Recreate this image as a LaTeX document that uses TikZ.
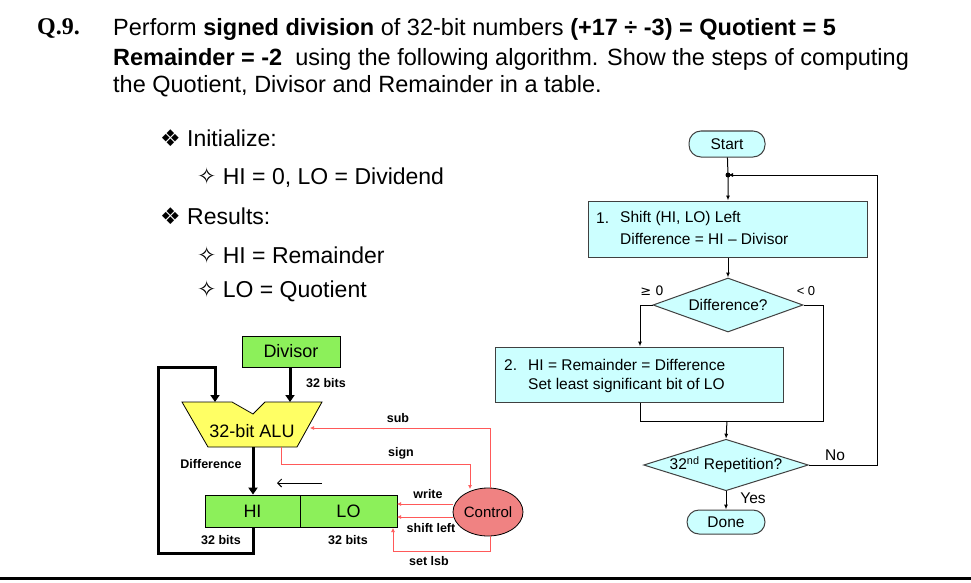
\documentclass[tikz,border=0pt]{standalone}
\usepackage{fontspec}
\setmainfont{Liberation Sans}
\newfontfamily\serifb{Liberation Serif}
\newfontfamily\dejavu{DejaVu Sans}
\usetikzlibrary{arrows.meta,shapes.geometric}
\definecolor{flowfill}{RGB}{204,255,255}
\definecolor{dpgreen}{RGB}{140,240,90}
\definecolor{alufill}{RGB}{255,255,100}
\definecolor{ctlfill}{RGB}{240,130,130}
\begin{document}
\begin{tikzpicture}[x=1pt,y=-1pt,
  flow/.style={draw=black!75,fill=flowfill,line width=1pt},
  dp/.style={draw=black,fill=dpgreen,line width=0.8pt},
  red/.style={draw=red!65,line width=0.7pt},
  thick arr/.style={line width=3pt,-{Triangle[length=7pt,width=9pt]}},
  farr/.style={line width=1pt,-{Latex[length=5pt,width=4pt]}},
  rarr/.style={red,-{Latex[length=4pt,width=4pt]}},
  lbl/.style={font=\fontsize{12.5}{14}\selectfont\bfseries,inner sep=0pt},
  ftxt/.style={font=\fontsize{15.5}{17}\selectfont},
  big/.style={font=\fontsize{18}{20}\selectfont},
  title/.style={font=\fontsize{23.5}{26}\selectfont,anchor=west,inner sep=0pt},
  bullet/.style={font=\fontsize{23}{26}\selectfont,anchor=west,inner sep=0pt}]
\useasboundingbox (0,0) rectangle (971,583);
\fill[white] (0,0) rectangle (971,583);
% title
\node[anchor=west,inner sep=0pt,font=\fontsize{24}{26}\selectfont\serifb\bfseries] (q) at (37,29) {Q.9.};
\node[title] (t1) at (113,29) {Perform \textbf{signed division} of 32-bit numbers \textbf{(+17 ÷ -3) = Quotient = 5}};
\node[title] (t2) at (113,59) {\textbf{Remainder = -2}\ \ using the following algorithm. Show the steps of computing};
\node[title] (t3) at (113,86) {the Quotient, Divisor and Remainder in a table.};
% bullets
\node[bullet] (b1) at (160,138) {{\dejavu ❖} Initialize:};
\node[bullet] (b2) at (197,177) {{\dejavu ✧} HI = 0, LO = Dividend};
\node[bullet] (b3) at (160,216) {{\dejavu ❖} Results:};
\node[bullet] (b4) at (197,255) {{\dejavu ✧} HI = Remainder};
\node[bullet] (b5) at (197,291) {{\dejavu ✧} LO = Quotient};
% datapath
\node[dp,minimum width=98pt,minimum height=31pt,big] (div) at (291,351.5) {Divisor};
\draw[draw=black,fill=alufill,line width=0.8pt] (182,402) -- (232,402) -- (253,414) -- (265,402) -- (322,402) -- (297,447) -- (208,447) -- cycle;
\node[big,inner sep=0pt] (alu) at (252,431) {32-bit ALU};
\node[dp,minimum width=95pt,minimum height=32pt,big] (hi) at (252.5,511) {HI};
\node[dp,minimum width=97pt,minimum height=32pt,big] (lo) at (348.5,511) {LO};
\node[draw=black,fill=ctlfill,ellipse,line width=0.8pt,minimum width=70pt,minimum height=48pt,font=\fontsize{15}{17}\selectfont,inner sep=0pt] (ctl) at (488,512) {Control};
\coordinate (aluL) at (215,402); \coordinate (aluR) at (290,402);
\coordinate (aluO) at (253,447); \coordinate (aluS) at (281,447);
\draw[thick arr] (div.south -| aluR) -- (aluR);
\draw[line width=3pt,-{Triangle[length=7pt,width=9pt]}] (253,527) -- (253,553) -- (158,553) -- (158,367) -- (215,367) -- (aluL);
\draw[thick arr] (aluO) -- (hi.north -| aluO);
\draw[line width=1pt,-{Straight Barb[length=4pt]}] (322,483) -- (277,483);
\node[lbl] (l32a) at (326,383) {32 bits};
\node[lbl] (ldif) at (211,464) {Difference};
\node[lbl] (l32b) at (221,540) {32 bits};
\node[lbl] (l32c) at (348,540) {32 bits};
\draw[rarr] (ctl.north -| 490,0) -- (490,428) -- (310,428);
\draw[rarr] (aluS) -- (281,464) -- (470,464) -- (470,489);
\draw[rarr] (ctl.west |- 0,504) -- (397,504);
\draw[rarr] (ctl.west |- 0,517) -- (397,517);
\draw[rarr] (490,536) -- (490,551) -- (393,551) -- (393,528);
\node[lbl] (lsub) at (398,418) {sub};
\node[lbl] (lsign) at (401,453) {sign};
\node[lbl] (lw) at (428,494) {write};
\node[lbl] (lsh) at (431,528) {shift left};
\node[lbl] (lset) at (429,561) {set lsb};
% flowchart
\node[flow,rounded corners=12pt,minimum width=76pt,minimum height=26pt,ftxt] (start) at (727,144) {Start};
\coordinate (jn) at (728,175);
\fill (jn) circle (2.5pt);
\node[flow,minimum width=279pt,minimum height=56pt] (s1) at (727.5,229) {};
\node[ftxt,anchor=west,inner sep=0pt] (s1n) at (596,218) {1.};
\node[ftxt,anchor=west,inner sep=0pt] (s1a) at (620,218) {Shift (HI, LO) Left};
\node[ftxt,anchor=west,inner sep=0pt] (s1b) at (620,239) {Difference = HI – Divisor};
\node[flow,diamond,aspect=2.8,minimum width=150pt,minimum height=54pt,inner sep=0pt,ftxt] (d1) at (728,305) {Difference?};
\node[flow,minimum width=288pt,minimum height=55pt] (s2) at (639,374.5) {};
\node[ftxt,anchor=west,inner sep=0pt] (s2n) at (504,365) {2.};
\node[ftxt,anchor=west,inner sep=0pt] (s2a) at (528,365) {HI = Remainder = Difference};
\node[ftxt,anchor=west,inner sep=0pt] (s2b) at (528,385) {Set least significant bit of LO};
\node[flow,diamond,aspect=3.2,minimum width=163pt,minimum height=51pt,inner sep=0pt,ftxt] (d2) at (726,465) {32\textsuperscript{nd} Repetition?};
\node[flow,rounded corners=12pt,minimum width=78pt,minimum height=24pt,ftxt] (done) at (726,522) {Done};
\draw[farr] (start) -- (jn) -- (s1.north -| jn);
\draw[farr] (d2.east) -- (877,465) -- (877,175) -- (jn);
\draw[farr] (s1.south -| d1.north) -- (d1.north);
\draw[farr] (d1.west) -- (640,305) -- (s2.north -| 640,0);
\draw[line width=1pt] (d1.east) -- (823,305) -- (823,421) -- (640,421) -- (s2.south -| 640,0);
\draw[farr] (727,421) -- (d2.north);
\draw[farr] (d2.south) -- (done.north);
\node[font=\fontsize{13}{14}\selectfont] (ge) at (652,291) {\dejavu ≥ 0};
\node[font=\fontsize{13}{14}\selectfont] (lt) at (806,291) {< 0};
\node[ftxt] (no) at (835,455) {No};
\node[ftxt] (yes) at (753,498) {Yes};
% bottom rule
\draw[line width=3pt] (0,578) -- (971,578);
\end{tikzpicture}
\end{document}
